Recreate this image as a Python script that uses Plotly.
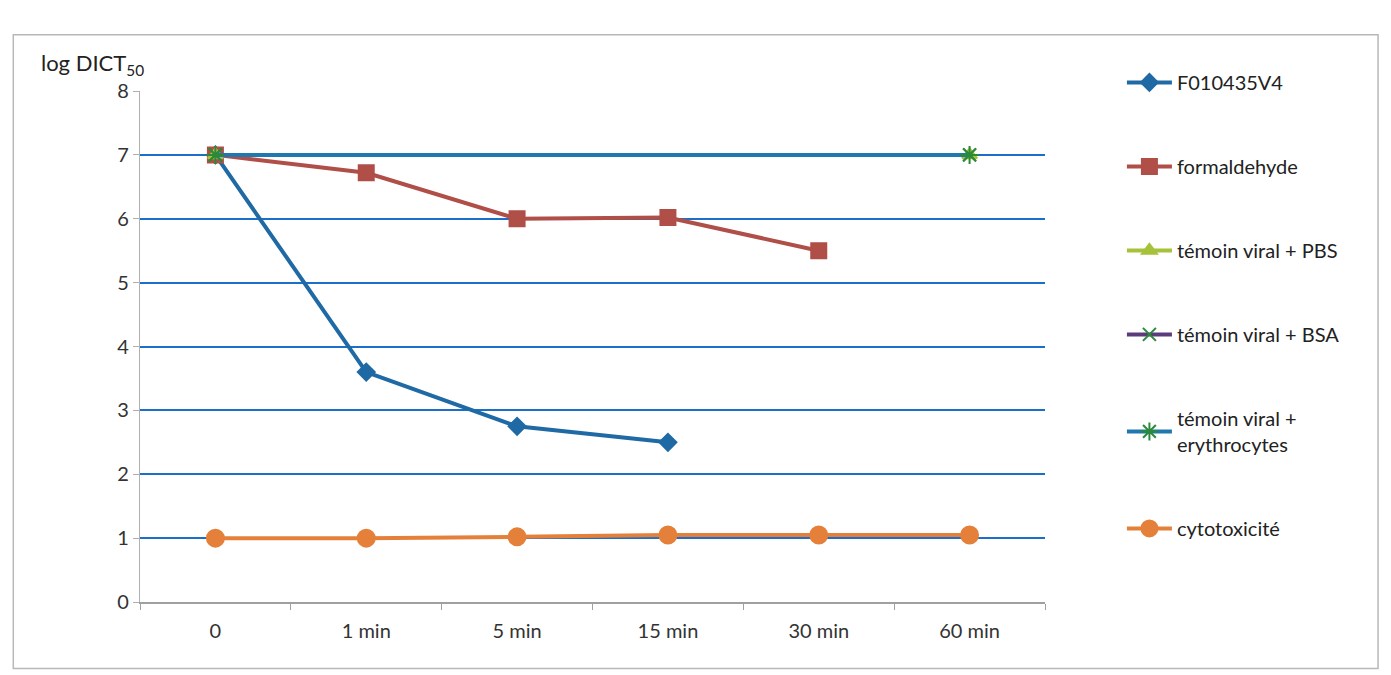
import plotly.graph_objects as go

# data

temps = ["0", "1 min", "5 min", "15 min", "30 min", "60 min"]

f010435v4 = [7.0, 3.6, 2.75, 2.5, None, None]
formaldehyde = [7.0, 6.72, 6.0, 6.02, 5.5, None]
temoin_pbs = [7.0, None, None, None, None, 7.0]
temoin_bsa = [7.0, None, None, None, None, 7.0]
temoin_erythro = [7.0, None, None, None, None, 7.0]
cytotox = [1.0, 1.0, 1.02, 1.05, 1.05, 1.05]

series = [
    ("F010435V4", f010435v4, "#1f6aa5", "diamond", 13),
    ("formaldehyde", formaldehyde, "#b04e48", "square", 15),
    ("témoin viral + PBS", temoin_pbs, "#a6c23a", "triangle-up", 13),
    ("témoin viral + BSA", temoin_bsa, "#5b3b7c", "x-thin", 13),
    ("témoin viral +<br>erythrocytes", temoin_erythro, "#1f78b0", "asterisk", 15),
    ("cytotoxicité", cytotox, "#e5803a", "circle", 17),
]

fig = go.Figure()

for i, (nom, vals, col, sym, taille) in enumerate(series):
    fig.add_trace(go.Scatter(
        x=temps,
        y=vals,
        name=nom,
        mode="lines+markers",
        connectgaps=True,
        legendgroup=str(i),
        line=dict(color=col, width=4),
        marker=dict(symbol=sym, size=taille, color=col,
                    line=dict(color="#2a8a3a" if sym in ("x-thin", "asterisk") else col, width=2)),
    ))

# cadre gris autour du graphique
fig.add_shape(type="rect", xref="paper", yref="paper",
              x0=-0.14, x1=1.368, y0=-0.13, y1=1.11,
              line=dict(color="#b8b8b8", width=1.5), layer="below")

fig.add_annotation(
    text="log DICT<sub>50</sub>", xref="paper", yref="paper",
    x=-0.112, y=1.02, xanchor="left", yanchor="bottom",
    showarrow=False, font=dict(size=22, color="#222222", family="Lato"),
)

# la page ajoute 8 px de marge au body : marges compensées
fig.update_layout(
    width=1391,
    height=675,
    margin=dict(l=132, r=354, t=83, b=81),
    plot_bgcolor="white",
    paper_bgcolor="white",
    font=dict(family="Lato", size=18, color="#333333"),
    showlegend=True,
    legend=dict(
        x=1.085, y=1.055, xanchor="left", yanchor="top",
        tracegroupgap=55, itemwidth=45, maxheight=640,
        font=dict(size=20, color="#222222"),
        bgcolor="rgba(0,0,0,0)",
    ),
    xaxis=dict(
        type="category",
        range=[-0.5, 5.5],
        showgrid=False,
        showline=True, linecolor="#a0a0a0", linewidth=1.5,
        ticks="outside", tickson="boundaries", ticklen=6, tickcolor="#a0a0a0",
        ticklabelstandoff=10,
        tickfont=dict(size=20, color="#333333"),
    ),
    yaxis=dict(
        range=[0, 8],
        dtick=1,
        showgrid=True, gridcolor="#1c6fc8", gridwidth=1.6,
        zeroline=False,
        showline=True, linecolor="#b0b0b0", linewidth=1.2,
        ticks="outside", ticklen=6, tickcolor="#b0b0b0",
        tickfont=dict(size=20, color="#333333"),
    ),
)

fig.write_html("out.html")
